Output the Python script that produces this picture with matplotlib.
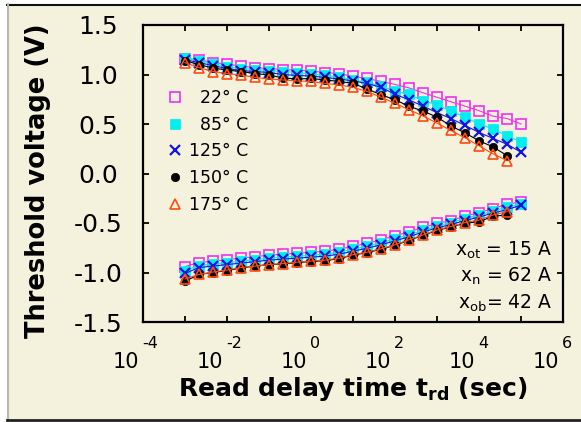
import numpy as np
import matplotlib
matplotlib.use("Agg")
import matplotlib.pyplot as plt
import matplotlib.transforms as mtransforms
from matplotlib.lines import Line2D
from matplotlib.patches import Rectangle

plt.rcParams['font.family'] = ['DejaVu Sans']
plt.rcParams['mathtext.default'] = 'regular'

# read delay time, log10(sec)
t_log = [-3.0, -2.67, -2.33, -2.0, -1.67, -1.33, -1.0, -0.67, -0.33, 0.0, 0.33, 0.67,
         1.0, 1.33, 1.67, 2.0, 2.33, 2.67, 3.0, 3.33, 3.67, 4.0, 4.33, 4.67, 5.0]

# threshold voltage, upper branch (V)
v22_up = [1.16, 1.15, 1.12, 1.105, 1.085, 1.07, 1.06, 1.05, 1.045, 1.035, 1.02, 1.01, 0.98,
          0.96, 0.93, 0.90, 0.865, 0.815, 0.77, 0.725, 0.68, 0.635, 0.58, 0.555, 0.50]
v85_up = [1.17, 1.14, 1.11, 1.08, 1.06, 1.05, 1.04, 1.03, 1.02, 1.005, 0.99, 0.975, 0.945,
          0.92, 0.88, 0.835, 0.80, 0.735, 0.695, 0.63, 0.57, 0.50, 0.45, 0.38, 0.32]
v125_up = [1.15, 1.12, 1.09, 1.06, 1.04, 1.03, 1.02, 1.0, 0.99, 0.985, 0.97, 0.955, 0.935,
           0.91, 0.87, 0.80, 0.745, 0.68, 0.615, 0.555, 0.485, 0.415, 0.355, 0.295, 0.215]
v150_up = [1.14, 1.10, 1.065, 1.045, 1.03, 1.01, 0.995, 0.965, 0.955, 0.96, 0.945, 0.93,
           0.91, 0.855, 0.795, 0.745, 0.68, 0.63, 0.57, 0.48, 0.41, 0.33, 0.27, 0.18]
v175_up = [1.12, 1.07, 1.03, 1.01, 0.995, 0.97, 0.955, 0.945, 0.935, 0.93, 0.91, 0.895,
           0.87, 0.83, 0.77, 0.71, 0.645, 0.58, 0.51, 0.435, 0.36, 0.28, 0.20, 0.13]

# lower branch (V)
v22_lo = [-0.94, -0.90, -0.885, -0.87, -0.855, -0.84, -0.825, -0.815, -0.805, -0.795, -0.785,
          -0.765, -0.735, -0.705, -0.67, -0.63, -0.59, -0.545, -0.505, -0.475, -0.43, -0.395,
          -0.355, -0.31, -0.285]
v85_lo = [-0.98, -0.93, -0.915, -0.90, -0.885, -0.87, -0.855, -0.845, -0.835, -0.825, -0.815,
          -0.795, -0.765, -0.735, -0.70, -0.66, -0.62, -0.575, -0.53, -0.495, -0.455, -0.42,
          -0.38, -0.34, -0.31]
v125_lo = [-1.01, -0.95, -0.935, -0.92, -0.905, -0.89, -0.875, -0.865, -0.855, -0.845, -0.835,
           -0.815, -0.785, -0.755, -0.72, -0.68, -0.64, -0.59, -0.55, -0.515, -0.475, -0.44,
           -0.40, -0.365, -0.32]
v150_lo = [-1.09, -1.02, -1.0, -0.98, -0.955, -0.935, -0.92, -0.915, -0.90, -0.89, -0.88,
           -0.86, -0.825, -0.80, -0.765, -0.725, -0.675, -0.625, -0.575, -0.54, -0.50, -0.49,
           -0.43, -0.42]
v175_lo = [-1.065, -1.02, -0.995, -0.975, -0.95, -0.935, -0.92, -0.91, -0.895, -0.885, -0.875,
           -0.855, -0.82, -0.795, -0.76, -0.72, -0.67, -0.62, -0.57, -0.535, -0.495, -0.47,
           -0.42, -0.385]

labels = ['22° C', '85° C', '125° C', '150° C', '175° C']
notes = ['$x_{ot}$ = 15 A', '$x_{n}$ = 62 A', '$x_{ob}$= 42 A']
dec_exp = [-4, -2, 0, 2, 4, 6]

t = 10 ** np.array(t_log)
cream = '#f4f2dc'

fig = plt.figure(figsize=(5.81, 4.22), dpi=100, facecolor='white')
# cream panel with the thin frame lines
fig.add_artist(Rectangle((7 / 581, 2 / 422), 574 / 581, 416 / 422, transform=fig.transFigure,
                         facecolor=cream, edgecolor='none', zorder=-5))
fig.add_artist(Line2D([7 / 581, 1], [1 - 4.5 / 422, 1 - 4.5 / 422], transform=fig.transFigure,
                      color='#111111', lw=1.5))
fig.add_artist(Line2D([7.5 / 581, 7.5 / 581], [2 / 422, 1 - 4 / 422], transform=fig.transFigure,
                      color='#b8b8b0', lw=1.5))
fig.add_artist(Line2D([7 / 581, 1], [2 / 422, 2 / 422], transform=fig.transFigure,
                      color='#222222', lw=2))

ax = fig.add_axes([143 / 581, 1 - 322 / 422, 420 / 581, 297 / 422])
ax.patch.set_alpha(0)

styles = [
    dict(marker='s', mfc='none', mec='#f030f0', color='#f030f0', ms=6.5, mew=1.2),
    dict(marker='s', mfc='#00eef0', mec='#00eef0', color='#00eef0', ms=6.5, mew=0.5),
    dict(marker='x', mfc='none', mec='#1414e0', color='#1414e0', ms=7, mew=1.6),
    dict(marker='o', mfc='black', mec='black', color='black', ms=6, mew=0.5),
    dict(marker='^', mfc='none', mec='#ff4a10', color='#ff4a10', ms=6.5, mew=1.2),
]
ups = [v22_up, v85_up, v125_up, v150_up, v175_up]
los = [v22_lo, v85_lo, v125_lo, v150_lo, v175_lo]
for st, vu, vl in zip(styles, ups, los):
    ax.plot(t[:len(vu)], vu, lw=0.8, **st)
    ax.plot(t[:len(vl)], vl, lw=0.8, **st)

ax.set_xscale('log')
ax.set_xlim(1e-4, 1e6)
ax.set_ylim(-1.5, 1.5)
ax.set_xticks([10.0 ** e for e in range(-4, 7)])
ax.xaxis.set_minor_locator(matplotlib.ticker.NullLocator())
ax.set_xticklabels([])
ax.set_yticks([-1.5, -1.0, -0.5, 0.0, 0.5, 1.0, 1.5])
ax.set_yticklabels(['-1.5', '-1.0', '-0.5', '0.0', '0.5', '1.0', '1.5'])
ax.tick_params(direction='in', length=4, width=1.3, top=True, right=True)
ax.tick_params(axis='y', pad=32.4, labelsize=18)
for lab in ax.get_yticklabels():
    lab.set_horizontalalignment('center')
for sp in ax.spines.values():
    sp.set_linewidth(1.6)

# staggered decade labels: base "10" low, exponent raised at the tick
tr = ax.get_xaxis_transform()
for e in dec_exp:
    ax.text(10.0 ** e, -0.1347, '10', transform=tr + mtransforms.ScaledTranslation(-0.04, 0, fig.dpi_scale_trans),
            ha='right', va='center', fontsize=15, clip_on=False)
    ax.text(10.0 ** e, -0.074, str(e), transform=tr + mtransforms.ScaledTranslation(-0.01, 0, fig.dpi_scale_trans),
            ha='left', va='center', fontsize=11.5, clip_on=False)

ax.set_xlabel('Read delay time t$_{rd}$ (sec)', fontsize=18, fontweight='bold')
ax.xaxis.set_label_coords(0.5, -0.178)
ax.set_ylabel('Threshold voltage (V)', fontsize=18.5, fontweight='bold')
ax.yaxis.set_label_coords(-0.218, 0.475)

handles = [Line2D([], [], ls='none', **st) for st in styles]
ax.legend(handles, ['  ' + labels[0], '  ' + labels[1], labels[2], labels[3], labels[4]],
          loc='upper left', bbox_to_anchor=((168 - 143) / 420, (322 - 89) / 297),
          frameon=False, fontsize=12.5, handlelength=0.8, handletextpad=0.4,
          labelspacing=0.5, borderpad=0, borderaxespad=0)

for k, (s, yy) in enumerate(zip(notes, [250, 276.7, 303])):
    ax.text((552 - 143) / 420, (322 - yy) / 297, s, transform=ax.transAxes,
            ha='right', va='center', fontsize=13.5)

fig.savefig('out.png', dpi=100)
